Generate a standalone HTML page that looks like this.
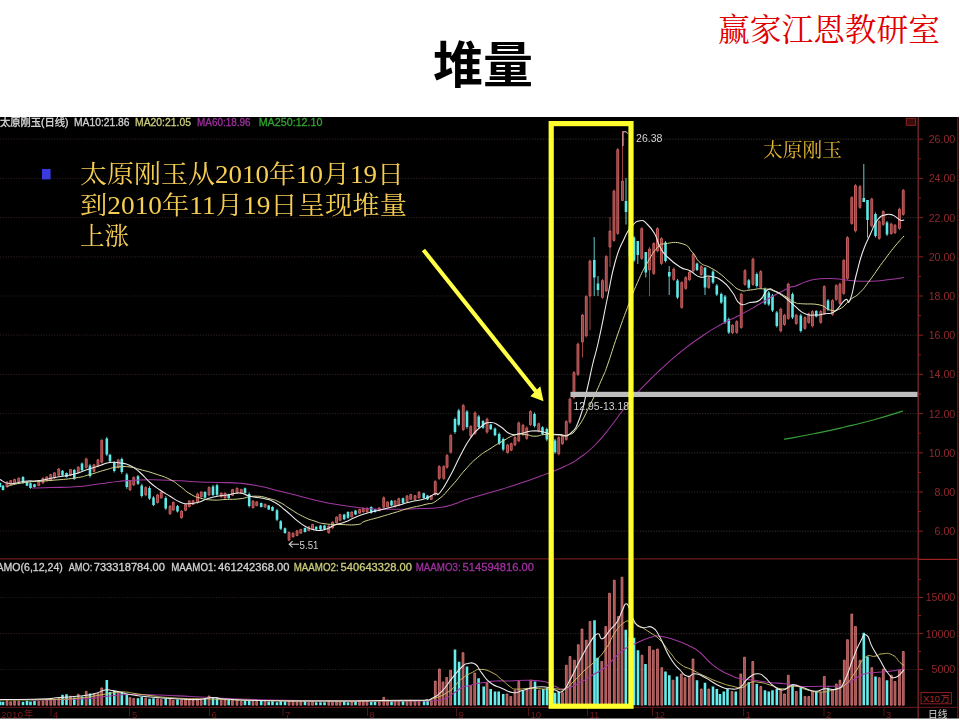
<!DOCTYPE html>
<html lang="zh-CN">
<head>
<meta charset="utf-8">
<title>堆量</title>
<style>
html,body{margin:0;padding:0;background:#fff;}
body{width:960px;height:720px;overflow:hidden;position:relative;font-family:"Liberation Sans",sans-serif;}
#slide{position:absolute;left:0;top:0;display:block;}
.t{position:absolute;margin:0;color:transparent;font-family:"Liberation Sans",sans-serif;font-weight:normal;white-space:nowrap;overflow:hidden;pointer-events:none;}
h1.t{left:432px;top:40px;width:102px;height:50px;font-size:48px;line-height:50px;}
p.brand{left:718px;top:12px;width:222px;height:32px;font-size:28px;line-height:32px;}
ul.t{left:42px;top:156px;width:366px;height:94px;font-size:24px;line-height:31px;list-style:none;padding:0 0 0 38px;box-sizing:border-box;}
p.lbl{left:764px;top:141px;width:80px;height:20px;font-size:18px;line-height:20px;}
</style>
</head>
<body>
<svg id="slide" width="960" height="720" viewBox="0 0 960 720" role="img" aria-label="堆量 — 太原刚玉日线图">
<defs>
<filter id="soft" filterUnits="userSpaceOnUse" x="0" y="0" width="960" height="720"><feGaussianBlur stdDeviation="0.55"/></filter>
<filter id="soft2" filterUnits="userSpaceOnUse" x="0" y="0" width="960" height="720"><feGaussianBlur stdDeviation="0.35"/></filter>
<linearGradient id="gridg" gradientUnits="userSpaceOnUse" x1="0" y1="0" x2="917" y2="0"><stop offset="0" stop-color="#221717"/><stop offset="0.5" stop-color="#281d1d"/><stop offset="1" stop-color="#2f2525"/></linearGradient>
</defs>
<rect x="0" y="0" width="960" height="720" fill="#fff"/>
<text id="title-glyphs" x="483" y="83" text-anchor="middle" font-family="'Liberation Sans', 'Noto Sans CJK SC', sans-serif" font-size="50" font-weight="bold" fill="#000">堆量</text>
<text id="brand-glyphs" x="718" y="40.5" font-family="'Liberation Serif', 'Noto Serif CJK SC', serif" font-size="31.7" fill="#e00000" textLength="222" lengthAdjust="spacingAndGlyphs">赢家江恩教研室</text>
<g id="chart">
<rect x="0" y="117" width="959" height="601.5" fill="#000"/>
<g stroke="url(#gridg)" stroke-width="1.2" stroke-dasharray="1.3 1.4" fill="none" filter="url(#soft2)">
<path d="M0 139.2 H917"/>
<path d="M0 178.4 H917"/>
<path d="M0 217.6 H917"/>
<path d="M0 256.8 H917"/>
<path d="M0 296 H917"/>
<path d="M0 335.2 H917"/>
<path d="M0 374.4 H917"/>
<path d="M0 413.6 H917"/>
<path d="M0 452.8 H917"/>
<path d="M0 492 H917"/>
<path d="M0 531.2 H917"/>
<path d="M0 597.5 H917"/>
<path d="M0 633.6 H917"/>
<path d="M0 669.5 H917"/>
</g>
<g stroke="#6c1d1d" stroke-width="1.3" fill="none" filter="url(#soft2)">
<path d="M0 558.9 H918"/><path d="M0 707.3 H958" stroke="#581616"/><path d="M918.2 117 V718" stroke="#7d2a2a"/>
</g>
<g stroke="#621818" stroke-width="1.4" fill="none" filter="url(#soft2)"><path d="M957.8 117 V718"/><path d="M918 559.4 H958" stroke="#9a2020"/></g>
<g stroke="#8e1f1f" stroke-width="1" fill="none">
<path d="M918 139.2 h5"/>
<path d="M918 158.8 h3"/>
<path d="M918 178.4 h5"/>
<path d="M918 198 h3"/>
<path d="M918 217.6 h5"/>
<path d="M918 237.2 h3"/>
<path d="M918 256.8 h5"/>
<path d="M918 276.4 h3"/>
<path d="M918 296 h5"/>
<path d="M918 315.6 h3"/>
<path d="M918 335.2 h5"/>
<path d="M918 354.8 h3"/>
<path d="M918 374.4 h5"/>
<path d="M918 394 h3"/>
<path d="M918 413.6 h5"/>
<path d="M918 433.2 h3"/>
<path d="M918 452.8 h5"/>
<path d="M918 472.4 h3"/>
<path d="M918 492 h5"/>
<path d="M918 511.6 h3"/>
<path d="M918 531.2 h5"/>
<path d="M918 597.5 h5"/>
<path d="M918 579.5 h3"/>
<path d="M918 633.6 h5"/>
<path d="M918 615.6 h3"/>
<path d="M918 669.5 h5"/>
<path d="M918 651.5 h3"/>
</g>
<g id="candles" filter="url(#soft)">
<path d="M7 481.2V487.5M10.8 480V485M14.5 478.8V483.8M18.8 477.5V482.5M38.8 480V486.2M43 477.5V483.8M46.8 476.2V481.2M50.8 473.8V481.2M54.5 472V478.8M58.8 468V476.2M70.5 468.8V476.2M78.2 466.2V473.8M86.2 457.5V468.8M94 463.8V472.5M98 458.8V467.5M101.8 438.8V463.8M118.2 458.8V468.8M130 480V491.2M133.8 476.2V486.2M145.8 486.2V496.2M157.5 493.8V503.8M161.2 491.2V498.8M170 505V515M173.2 501.2V511.2M181.5 510V518.8M185.5 503.8V511.2M189.2 500V507.5M193 500V505M197.5 492.5V503.8M201.2 491.2V497.5M209 486.2V496.2M221.2 492.5V497.5M225 492.5V498.8M232.5 488.8V496.2M237 487.5V493.8M241.2 488.8V493.8M253 500V508.8M256.8 501.2V506.2M265 503.8V507.5M289 531.2V541.2M293 532.5V537.5M297 530V536.2M300.8 528.8V533.8M308.8 526.2V531.2M312.5 523.8V530M328.8 525V533.8M332.5 521.2V528.8M336.5 516.2V523.8M340 513.8V521.2M351.8 511.2V517.5M359.5 508.8V513.8M363.2 507.5V512.5M367 507.5V512.5M379.2 507.5V511.2M383.8 496.2V508.8M387.5 501.2V507.5M395 500V507.5M398.8 497.5V506.2M407 495V502.5M410.8 493.8V500M415 495V500M419 491.2V498.8M431.2 495V500M435.2 480V496.2M439.2 465V480M443.8 465V480M447 453.8V468.8M450.8 433.8V453.8M463.2 403.8V431.2M470.8 425V437.5M475 411.2V435M487 417.5V433.8M507.5 443.8V453.8M511.2 442.5V451.2M515 436.2V446.2M518.8 421.2V442.5M523 423.8V436.2M526.8 426.2V440M530.5 410V426.2M538.8 422.5V432.5M558.8 436V455.5M562.5 435V445M566.2 420V441M570 397.5V423.8M574 371V399M578 342.5V376M582.5 314V357.5M586.2 295V337.5M590 259.5V330M602.5 279V299M606.2 255V292.5M610 217V267M614 189.5V242M617.7 148V235M622.5 131V200.5M641.8 227V260M649.5 247V296M653.8 242V275M657.5 227V252.5M661.5 237V265M673.8 267.5V281M681.8 281V309M685.8 276V290M689.5 271V281M693.2 252.5V272.5M701.2 265V276M708.8 276V289M732.5 324V334M736.8 320V334M741.2 292.5V329M745 269V286M753 257.5V286M760.8 270V289M780.8 307.5V332.5M784.5 313.8V326M788.2 282.5V320M796.2 313.8V325M805 316V330M808.8 312.5V324M812.5 310V327.5M820.8 310V324M824.2 285V315M832.5 299V316M836.2 284V301M840 282.5V305M843.8 258.8V295M847.5 236V280M851.8 196V225M855.5 184V232.5M860 185V209M871.8 197.5V227.5M879.2 220V240M883.2 210V226M891.2 222.5V235M895 224V234M899.5 207.5V230M903.2 188.8V216" stroke="#b04a4a" stroke-width="0.9" fill="none"/>
<path d="M0 482.5V487.5M3 485V490.5M23 476.2V483.8M27 481.2V486.2M30.5 482.5V488.8M34.5 483.8V487.5M62.5 470V476.2M66.5 472.5V477.5M74.2 468.8V480M82 462.5V471.2M90 463.8V477.5M106.8 437V456.2M110 453.8V462.5M114.2 461.2V472.5M121.8 457.5V473.8M126.8 473V488.8M138 475V485M141.8 483.8V497.5M149.5 486.2V500M153.5 496.2V506.2M165.8 496.2V510M177.5 505V512.5M205 491.2V498.8M213 485V496.2M217 483.8V496.2M228.8 493.8V498.8M245 487.5V493.8M249.2 492.5V507.5M261.2 502.5V507.5M268.8 505V510M272.5 506.2V511.2M277 508.8V521.2M280.8 520V530M285 527.5V533.8M305 527.5V532.5M316.2 526.2V530M320.5 525V530M324.5 525V530M344.2 513.8V520M348 511.2V518.8M355.5 510V515M371.2 506.2V513.8M375 508.8V512.5M391.5 500V506.2M403 497.5V503.8M423.8 492.5V498.8M427.5 495V500M455 417.5V433.8M458.8 408.8V426.2M467 410V428.8M478.8 415V428.8M483 420V428.8M490.8 423.8V430M495 427.5V436.2M499.2 432.5V445M503.2 437.5V451.2M534.5 412.5V427.5M542.5 426.2V435M546.8 427.5V441.2M551 433V446M555 438.8V453.8M594.2 237V296M598 276V296M626 178V224.5M630 224.5V257M634 236V262M637.8 241V264M645.8 252V277.5M665.5 241V262.5M669.2 266V295M677.5 279V299M697 262.5V271M705 267.5V295M713 270V284M716.8 284V296M721.2 292.5V304M725 295V324M728.8 317.5V334M748.8 279V289M756.8 272.5V287.5M765 287.5V305M768.8 291V306M772.5 294V312M776.8 311V327.5M792.5 292.5V319M800.8 313.8V332.5M816.2 310V317.5M828 299V311M863.8 164V202M867.5 200V237.5M875.5 212.5V237.5M887 221V236" stroke="#6fe0e0" stroke-width="0.9" fill="none"/>
<path d="M6 482h1.9v4.8h-1.9zM9.8 480.6h1.9v3.8h-1.9zM13.6 479.4h1.9v3.8h-1.9zM17.8 478.1h1.9v3.8h-1.9zM37.8 480.8h1.9v4.8h-1.9zM42 478.2h1.9v4.8h-1.9zM45.8 476.9h1.9v3.8h-1.9zM49.8 474.6h1.9v5.7h-1.9zM53.5 472.8h1.9v5.1h-1.9zM57.8 469h1.9v6.3h-1.9zM69.5 469.6h1.9v5.7h-1.9zM77.3 467.1h1.9v5.7h-1.9zM85.3 458.9h1.9v8.5h-1.9zM93 464.8h1.9v6.6h-1.9zM97 459.8h1.9v6.6h-1.9zM100.8 440.4h1.9v21.8h-1.9zM117.3 459.9h1.9v7.6h-1.9zM129.1 481.4h1.9v8.5h-1.9zM132.8 477.4h1.9v7.6h-1.9zM144.8 487.4h1.9v7.6h-1.9zM156.6 494.9h1.9v7.6h-1.9zM160.3 492.1h1.9v5.7h-1.9zM169.1 506.2h1.9v7.6h-1.9zM172.3 502.4h1.9v7.6h-1.9zM180.6 511.1h1.9v6.7h-1.9zM184.6 504.6h1.9v5.7h-1.9zM188.3 500.9h1.9v5.7h-1.9zM192.1 500.6h1.9v3.8h-1.9zM196.6 493.9h1.9v8.5h-1.9zM200.3 492h1.9v4.8h-1.9zM208.1 487.4h1.9v7.6h-1.9zM220.3 493.1h1.9v3.8h-1.9zM224.1 493.2h1.9v4.8h-1.9zM231.6 489.6h1.9v5.7h-1.9zM236.1 488.2h1.9v4.8h-1.9zM240.3 489.4h1.9v3.8h-1.9zM252.1 501.1h1.9v6.6h-1.9zM255.8 501.9h1.9v3.8h-1.9zM264.1 504.2h1.9v2.9h-1.9zM288.1 532.5h1.9v7.6h-1.9zM292.1 533.1h1.9v3.8h-1.9zM296.1 530.8h1.9v4.8h-1.9zM299.8 529.4h1.9v3.8h-1.9zM307.8 526.9h1.9v3.8h-1.9zM311.6 524.5h1.9v4.8h-1.9zM327.8 526h1.9v6.7h-1.9zM331.6 522.1h1.9v5.7h-1.9zM335.6 517.1h1.9v5.7h-1.9zM339.1 514.6h1.9v5.7h-1.9zM350.8 512h1.9v4.8h-1.9zM358.6 509.4h1.9v3.8h-1.9zM362.3 508.1h1.9v3.8h-1.9zM366.1 508.1h1.9v3.8h-1.9zM378.3 507.9h1.9v2.9h-1.9zM382.8 497.8h1.9v9.5h-1.9zM386.6 502h1.9v4.8h-1.9zM394.1 500.9h1.9v5.7h-1.9zM397.8 498.6h1.9v6.6h-1.9zM406.1 495.9h1.9v5.7h-1.9zM409.8 494.5h1.9v4.8h-1.9zM414.1 495.6h1.9v3.8h-1.9zM418.1 492.1h1.9v5.7h-1.9zM430.3 495.6h1.9v3.8h-1.9zM434.3 481.6h1.9v13h-1.9zM438.3 466.6h1.9v11.8h-1.9zM442.8 466.6h1.9v11.8h-1.9zM446.1 455.4h1.9v11.8h-1.9zM449.8 435.4h1.9v16.8h-1.9zM462.3 405.4h1.9v24.3h-1.9zM469.8 426.5h1.9v9.5h-1.9zM474.1 412.9h1.9v20.5h-1.9zM486.1 419.1h1.9v13h-1.9zM506.6 444.9h1.9v7.6h-1.9zM510.3 443.6h1.9v6.6h-1.9zM514 437.4h1.9v7.6h-1.9zM517.8 422.9h1.9v18h-1.9zM522 425.2h1.9v9.5h-1.9zM525.8 427.9h1.9v10.5h-1.9zM529.5 411.6h1.9v13h-1.9zM537.8 423.7h1.9v7.6h-1.9zM557.8 437.6h1.9v16.3h-1.9zM561.5 436.2h1.9v7.6h-1.9zM565.3 421.6h1.9v17.8h-1.9zM569 399.1h1.9v23h-1.9zM573 372.6h1.9v24.8h-1.9zM577 344.1h1.9v30.3h-1.9zM581.5 315h1.9v27h-1.9zM585.3 296.6h1.9v39.3h-1.9zM589 261h1.9v35h-1.9zM601.5 280.6h1.9v16.8h-1.9zM605.3 256.6h1.9v34.3h-1.9zM609 231h1.9v16h-1.9zM613 191.1h1.9v49.3h-1.9zM616.8 149.6h1.9v83.8h-1.9zM621.5 181h1.9v19.5h-1.9zM640.8 228.6h1.9v29.8h-1.9zM648.5 249h1.9v21h-1.9zM652.8 243.6h1.9v29.8h-1.9zM656.5 228.6h1.9v22.3h-1.9zM660.5 238.6h1.9v24.8h-1.9zM672.8 269.1h1.9v10.3h-1.9zM680.8 282.6h1.9v24.8h-1.9zM684.8 277.6h1.9v10.8h-1.9zM688.5 272.2h1.9v7.6h-1.9zM692.3 254.1h1.9v16.8h-1.9zM700.3 266.3h1.9v8.4h-1.9zM707.8 277.6h1.9v9.9h-1.9zM731.5 325.2h1.9v7.6h-1.9zM735.8 321.6h1.9v10.8h-1.9zM740.3 294.1h1.9v33.3h-1.9zM744 270.6h1.9v13.8h-1.9zM752 259.1h1.9v25.3h-1.9zM759.8 271.6h1.9v15.8h-1.9zM779.8 309.1h1.9v21.8h-1.9zM783.5 315.2h1.9v9.3h-1.9zM787.3 284.1h1.9v34.3h-1.9zM795.3 315.1h1.9v8.5h-1.9zM804 317.6h1.9v10.8h-1.9zM807.8 313.9h1.9v8.7h-1.9zM811.5 311.6h1.9v14.3h-1.9zM819.8 311.6h1.9v10.8h-1.9zM823.3 286.6h1.9v26.8h-1.9zM831.5 300.6h1.9v13.8h-1.9zM835.3 285.6h1.9v13.8h-1.9zM839 284.1h1.9v19.3h-1.9zM842.8 260.4h1.9v33h-1.9zM846.5 237.6h1.9v40.8h-1.9zM850.8 197.6h1.9v25.8h-1.9zM854.5 185.6h1.9v45.3h-1.9zM859 186.6h1.9v20.8h-1.9zM870.8 199.1h1.9v26.8h-1.9zM878.3 221.6h1.9v16.8h-1.9zM882.3 211.6h1.9v12.8h-1.9zM890.3 224h1.9v9.5h-1.9zM894 225.2h1.9v7.6h-1.9zM898.5 209.1h1.9v19.3h-1.9zM902.3 190.3h1.9v24.1h-1.9z" fill="#8e3c3c" stroke="#d06464" stroke-width="0.9"/>
<path d="M-1.3 483.1h2.6v3.8h-2.6zM1.7 485.7h2.6v4.2h-2.6zM21.7 477.1h2.6v5.7h-2.6zM25.7 481.9h2.6v3.8h-2.6zM29.2 483.2h2.6v4.8h-2.6zM33.2 484.2h2.6v2.9h-2.6zM61.2 470.8h2.6v4.8h-2.6zM65.2 473.1h2.6v3.8h-2.6zM73 470.1h2.6v8.5h-2.6zM80.7 463.6h2.6v6.6h-2.6zM88.7 465.4h2.6v10.5h-2.6zM105.5 438.6h2.6v16h-2.6zM108.7 454.8h2.6v6.6h-2.6zM113 462.6h2.6v8.5h-2.6zM120.5 459.1h2.6v13h-2.6zM125.5 474.6h2.6v12.5h-2.6zM136.7 476.2h2.6v7.6h-2.6zM140.4 485.4h2.6v10.5h-2.6zM148.2 487.9h2.6v10.5h-2.6zM152.2 497.4h2.6v7.6h-2.6zM164.4 497.9h2.6v10.5h-2.6zM176.2 505.9h2.6v5.7h-2.6zM203.7 492.1h2.6v5.7h-2.6zM211.7 486.4h2.6v8.5h-2.6zM215.7 485.2h2.6v9.5h-2.6zM227.4 494.4h2.6v3.8h-2.6zM243.7 488.2h2.6v4.8h-2.6zM247.9 494.1h2.6v11.8h-2.6zM259.9 503.1h2.6v3.8h-2.6zM267.4 505.6h2.6v3.8h-2.6zM271.2 506.9h2.6v3.8h-2.6zM275.7 510.2h2.6v9.5h-2.6zM279.4 521.2h2.6v7.6h-2.6zM283.7 528.2h2.6v4.8h-2.6zM303.7 528.1h2.6v3.8h-2.6zM314.9 526.7h2.6v2.8h-2.6zM319.2 525.6h2.6v3.8h-2.6zM323.2 525.6h2.6v3.8h-2.6zM342.9 514.5h2.6v4.8h-2.6zM346.7 512.1h2.6v5.7h-2.6zM354.2 510.6h2.6v3.8h-2.6zM369.9 507.1h2.6v5.7h-2.6zM373.7 509.2h2.6v2.8h-2.6zM390.2 500.8h2.6v4.8h-2.6zM401.7 498.2h2.6v4.8h-2.6zM422.4 493.2h2.6v4.8h-2.6zM426.2 495.6h2.6v3.8h-2.6zM453.7 419.1h2.6v13h-2.6zM457.4 410.4h2.6v14.3h-2.6zM465.7 411.6h2.6v15.5h-2.6zM477.4 416.6h2.6v10.5h-2.6zM481.7 421.1h2.6v6.6h-2.6zM489.4 424.5h2.6v4.8h-2.6zM493.7 428.6h2.6v6.6h-2.6zM497.9 434h2.6v9.5h-2.6zM501.9 439.1h2.6v10.5h-2.6zM533.2 414.1h2.6v11.8h-2.6zM541.2 427.3h2.6v6.6h-2.6zM545.5 429.1h2.6v10.5h-2.6zM549.7 434.6h2.6v9.9h-2.6zM553.7 440.4h2.6v11.8h-2.6zM593 260h2.6v17.5h-2.6zM596.7 283.5h2.6v6.5h-2.6zM624.7 201h2.6v11h-2.6zM628.7 226.1h2.6v29.3h-2.6zM632.7 237.6h2.6v22.8h-2.6zM636.5 241h2.6v14h-2.6zM644.5 252h2.6v20.5h-2.6zM664.2 242.6h2.6v18.3h-2.6zM668 272h2.6v4.5h-2.6zM676.2 280.6h2.6v16.8h-2.6zM695.7 263.5h2.6v6.5h-2.6zM703.7 267.5h2.6v20h-2.6zM711.7 271.6h2.6v10.8h-2.6zM715.5 285.4h2.6v9.1h-2.6zM720 293.9h2.6v8.7h-2.6zM723.7 296.6h2.6v25.8h-2.6zM727.5 319.1h2.6v13.3h-2.6zM747.5 280.2h2.6v7.6h-2.6zM755.5 274.1h2.6v11.8h-2.6zM763.7 289.1h2.6v14.3h-2.6zM767.5 292.6h2.6v11.8h-2.6zM771.2 295.6h2.6v14.8h-2.6zM775.5 312.6h2.6v13.3h-2.6zM791.2 294.1h2.6v23.3h-2.6zM799.5 315.4h2.6v15.5h-2.6zM815 310.9h2.6v5.7h-2.6zM826.7 300.4h2.6v9.1h-2.6zM862.5 198h2.6v4h-2.6zM866.2 200h2.6v20h-2.6zM874.2 214.1h2.6v21.8h-2.6zM885.7 222.6h2.6v11.8h-2.6z" fill="#5ee6e6"/>
</g>
<g id="volume" filter="url(#soft)">
<path d="M6.1 700.9h1.8V705.2h-1.8zM9.8 701.8h1.8V705.2h-1.8zM13.6 701h1.8V705.2h-1.8zM17.9 701.2h1.8V705.2h-1.8zM37.9 701.5h1.8V705.2h-1.8zM42.1 701.1h1.8V705.2h-1.8zM45.9 699.9h1.8V705.2h-1.8zM49.9 698.4h1.8V705.2h-1.8zM53.6 699.7h1.8V705.2h-1.8zM57.9 698.5h1.8V705.2h-1.8zM69.6 696.2h1.8V705.2h-1.8zM77.3 694.3h1.8V705.2h-1.8zM85.3 691.4h1.8V705.2h-1.8zM93.1 693.8h1.8V705.2h-1.8zM97.1 693.3h1.8V705.2h-1.8zM100.8 687.9h1.8V705.2h-1.8zM117.3 691.9h1.8V705.2h-1.8zM129.1 697.6h1.8V705.2h-1.8zM132.8 698.4h1.8V705.2h-1.8zM144.8 698.1h1.8V705.2h-1.8zM156.6 698.8h1.8V705.2h-1.8zM160.3 699.4h1.8V705.2h-1.8zM169.1 698.9h1.8V705.2h-1.8zM172.3 700.2h1.8V705.2h-1.8zM180.6 699.8h1.8V705.2h-1.8zM184.6 699.1h1.8V705.2h-1.8zM188.3 699.5h1.8V705.2h-1.8zM192.1 700.5h1.8V705.2h-1.8zM196.6 699.2h1.8V705.2h-1.8zM200.3 700.5h1.8V705.2h-1.8zM208.1 696h1.8V705.2h-1.8zM220.3 699.8h1.8V705.2h-1.8zM224.1 699.9h1.8V705.2h-1.8zM231.6 700.6h1.8V705.2h-1.8zM236.1 700.4h1.8V705.2h-1.8zM240.3 701.5h1.8V705.2h-1.8zM252.1 701.2h1.8V705.2h-1.8zM255.8 701.4h1.8V705.2h-1.8zM264.1 700.7h1.8V705.2h-1.8zM288.1 700.9h1.8V705.2h-1.8zM292.1 701.2h1.8V705.2h-1.8zM296.1 702h1.8V705.2h-1.8zM299.9 701.9h1.8V705.2h-1.8zM307.9 702.4h1.8V705.2h-1.8zM311.6 701.8h1.8V705.2h-1.8zM327.9 701.3h1.8V705.2h-1.8zM331.6 702.2h1.8V705.2h-1.8zM335.6 702.1h1.8V705.2h-1.8zM339.1 701.9h1.8V705.2h-1.8zM350.9 701.8h1.8V705.2h-1.8zM358.6 701.2h1.8V705.2h-1.8zM362.4 701.3h1.8V705.2h-1.8zM366.1 701.2h1.8V705.2h-1.8zM378.4 701.9h1.8V705.2h-1.8zM382.9 697.4h1.8V705.2h-1.8zM386.6 700h1.8V705.2h-1.8zM394.1 700.8h1.8V705.2h-1.8zM397.9 700.8h1.8V705.2h-1.8zM406.1 700.5h1.8V705.2h-1.8zM409.9 700.3h1.8V705.2h-1.8zM414.1 701h1.8V705.2h-1.8zM418.1 701.6h1.8V705.2h-1.8zM430.5 700.8h1.8V705.2h-1.8zM434.4 681.1h1.8V705.2h-1.8zM438.5 669h1.8V705.2h-1.8zM442.1 681.9h1.8V705.2h-1.8zM445.8 677.5h1.8V705.2h-1.8zM449.7 670.2h1.8V705.2h-1.8zM462.1 652.7h1.8V705.2h-1.8zM469.9 685.5h1.8V705.2h-1.8zM473.8 673.1h1.8V705.2h-1.8zM486.1 682.7h1.8V705.2h-1.8zM506.1 694h1.8V705.2h-1.8zM509.9 696.5h1.8V705.2h-1.8zM514.1 690.2h1.8V705.2h-1.8zM517.9 681.5h1.8V705.2h-1.8zM526.1 689h1.8V705.2h-1.8zM529.9 680.2h1.8V705.2h-1.8zM538.4 690.2h1.8V705.2h-1.8zM561.6 692.7h1.8V705.2h-1.8zM565.4 665.2h1.8V705.2h-1.8zM569.1 656.5h1.8V705.2h-1.8zM573.6 660.2h1.8V705.2h-1.8zM577.4 644.7h1.8V705.2h-1.8zM581.1 629h1.8V705.2h-1.8zM585.4 640.2h1.8V705.2h-1.8zM589.1 621.5h1.8V705.2h-1.8zM600.9 661.5h1.8V705.2h-1.8zM604.9 626.5h1.8V705.2h-1.8zM608.6 593.2h1.8V705.2h-1.8zM613.4 580.2h1.8V705.2h-1.8zM617.4 616.5h1.8V705.2h-1.8zM621.1 577.2h1.8V705.2h-1.8zM641.1 655.2h1.8V705.2h-1.8zM648.6 646.5h1.8V705.2h-1.8zM652.4 650.2h1.8V705.2h-1.8zM656.6 649h1.8V705.2h-1.8zM660.9 667.7h1.8V705.2h-1.8zM672.1 680.2h1.8V705.2h-1.8zM680.4 674h1.8V705.2h-1.8zM684.1 677.7h1.8V705.2h-1.8zM688.4 676.5h1.8V705.2h-1.8zM692.1 659h1.8V705.2h-1.8zM700.4 689h1.8V705.2h-1.8zM707.9 689h1.8V705.2h-1.8zM731.1 691.5h1.8V705.2h-1.8zM739.9 674h1.8V705.2h-1.8zM743.6 657.2h1.8V705.2h-1.8zM751.9 661.5h1.8V705.2h-1.8zM759.9 686.5h1.8V705.2h-1.8zM779.9 690.2h1.8V705.2h-1.8zM783.6 694h1.8V705.2h-1.8zM787.4 675.2h1.8V705.2h-1.8zM795.4 691.5h1.8V705.2h-1.8zM804.1 696.5h1.8V705.2h-1.8zM807.9 696.5h1.8V705.2h-1.8zM811.6 691.5h1.8V705.2h-1.8zM819.9 692.7h1.8V705.2h-1.8zM823.4 676.5h1.8V705.2h-1.8zM831.6 690.2h1.8V705.2h-1.8zM835.4 684h1.8V705.2h-1.8zM839.1 680.2h1.8V705.2h-1.8zM843.4 660.2h1.8V705.2h-1.8zM846.6 639.7h1.8V705.2h-1.8zM850.9 614h1.8V705.2h-1.8zM854.6 626.5h1.8V705.2h-1.8zM859.1 660.2h1.8V705.2h-1.8zM870.9 667.7h1.8V705.2h-1.8zM878.4 677.7h1.8V705.2h-1.8zM882.4 669h1.8V705.2h-1.8zM890.4 675.2h1.8V705.2h-1.8zM894.1 681.5h1.8V705.2h-1.8zM898.6 670.2h1.8V705.2h-1.8zM902.4 651.5h1.8V705.2h-1.8z" fill="#a04c4c" stroke="#dc7c7c" stroke-width="0.8"/>
<path d="M-1.3 701.5h2.6V705.2h-2.6zM1.7 701.7h2.6V705.2h-2.6zM21.7 701.7h2.6V705.2h-2.6zM25.7 700.8h2.6V705.2h-2.6zM29.2 701.6h2.6V705.2h-2.6zM33.2 700.9h2.6V705.2h-2.6zM61.2 694.8h2.6V705.2h-2.6zM65.2 694.2h2.6V705.2h-2.6zM73 697.4h2.6V705.2h-2.6zM80.7 696.6h2.6V705.2h-2.6zM88.7 693.6h2.6V705.2h-2.6zM105.5 679.9h2.6V705.2h-2.6zM108.7 692.1h2.6V705.2h-2.6zM113 690.8h2.6V705.2h-2.6zM120.5 692h2.6V705.2h-2.6zM125.5 694.8h2.6V705.2h-2.6zM136.7 698.3h2.6V705.2h-2.6zM140.4 697.1h2.6V705.2h-2.6zM148.2 698.7h2.6V705.2h-2.6zM152.2 698.2h2.6V705.2h-2.6zM164.4 698.4h2.6V705.2h-2.6zM176.2 699.6h2.6V705.2h-2.6zM203.7 698.3h2.6V705.2h-2.6zM211.7 697.5h2.6V705.2h-2.6zM215.7 697h2.6V705.2h-2.6zM227.4 699.9h2.6V705.2h-2.6zM243.7 700.9h2.6V705.2h-2.6zM247.9 701.1h2.6V705.2h-2.6zM259.9 700.9h2.6V705.2h-2.6zM267.4 701.5h2.6V705.2h-2.6zM271.2 701.2h2.6V705.2h-2.6zM275.7 702.2h2.6V705.2h-2.6zM279.4 701.2h2.6V705.2h-2.6zM283.7 701.4h2.6V705.2h-2.6zM303.7 701.5h2.6V705.2h-2.6zM314.9 702.2h2.6V705.2h-2.6zM319.2 702.2h2.6V705.2h-2.6zM323.2 702.3h2.6V705.2h-2.6zM342.9 701.2h2.6V705.2h-2.6zM346.7 702.3h2.6V705.2h-2.6zM354.2 701.6h2.6V705.2h-2.6zM369.9 702h2.6V705.2h-2.6zM373.7 701.8h2.6V705.2h-2.6zM390.2 701.3h2.6V705.2h-2.6zM401.7 700.9h2.6V705.2h-2.6zM422.8 700.5h2.6V705.2h-2.6zM426.3 700.5h2.6V705.2h-2.6zM453.7 649.5h2.6V705.2h-2.6zM457.8 661.7h2.6V705.2h-2.6zM465.7 666.6h2.6V705.2h-2.6zM477.3 678.2h2.6V705.2h-2.6zM482.4 686.5h2.6V705.2h-2.6zM489.4 689h2.6V705.2h-2.6zM493.7 691.5h2.6V705.2h-2.6zM497.4 691.5h2.6V705.2h-2.6zM501.9 694h2.6V705.2h-2.6zM521.7 690.2h2.6V705.2h-2.6zM533.7 681.5h2.6V705.2h-2.6zM542 689h2.6V705.2h-2.6zM545.7 687.7h2.6V705.2h-2.6zM549.7 690.2h2.6V705.2h-2.6zM553.7 692.7h2.6V705.2h-2.6zM557.5 691.5h2.6V705.2h-2.6zM593.2 620.2h2.6V705.2h-2.6zM596.2 657.7h2.6V705.2h-2.6zM624.5 629.7h2.6V705.2h-2.6zM628.7 637.7h2.6V705.2h-2.6zM632.7 637.7h2.6V705.2h-2.6zM636.7 650.2h2.6V705.2h-2.6zM644.2 664h2.6V705.2h-2.6zM664.2 671.5h2.6V705.2h-2.6zM668 675.2h2.6V705.2h-2.6zM675.7 676.5h2.6V705.2h-2.6zM695.7 680.2h2.6V705.2h-2.6zM703.7 682.7h2.6V705.2h-2.6zM711.7 686.5h2.6V705.2h-2.6zM715.5 689h2.6V705.2h-2.6zM718.7 694h2.6V705.2h-2.6zM722.5 691.5h2.6V705.2h-2.6zM726.2 689h2.6V705.2h-2.6zM734.5 691.5h2.6V705.2h-2.6zM747.5 682.2h2.6V705.2h-2.6zM755.5 684h2.6V705.2h-2.6zM763.7 690.2h2.6V705.2h-2.6zM767.5 691.5h2.6V705.2h-2.6zM771.2 690.2h2.6V705.2h-2.6zM775.5 689h2.6V705.2h-2.6zM791.2 684h2.6V705.2h-2.6zM799.5 687.7h2.6V705.2h-2.6zM815 691.5h2.6V705.2h-2.6zM826.7 687.7h2.6V705.2h-2.6zM862.5 632.7h2.6V705.2h-2.6zM866.2 656.5h2.6V705.2h-2.6zM874.2 676.5h2.6V705.2h-2.6zM885.7 680.2h2.6V705.2h-2.6z" fill="#66ecec"/>
</g>
<g id="ma" filter="url(#soft2)">
<path d="M32.5 488 C37.4 487.9 38.1 487.9 50 487.5 C61.9 487.1 61 487.8 75 486.8 C89 485.7 87.4 485.3 100 483.8 C112.6 482.2 108.8 482.3 120 481.2 C131.2 480.2 128.8 480.4 140 480 C151.2 479.6 148.8 479.8 160 480 C171.2 480.2 168.8 480.2 180 480.8 C191.2 481.3 188.8 481.5 200 482 C211.2 482.5 208.8 482.1 220 482.5 C231.2 482.9 228.8 482.2 240 483.2 C251.2 484.3 248.8 484 260 486.2 C271.2 488.5 268.8 488.4 280 491.2 C291.2 494.1 288.8 493.4 300 496.2 C311.2 499.1 308.8 498.8 320 501.2 C331.2 503.7 329.5 503.2 340 505 C350.5 506.8 349.1 506.4 357.5 507.5 C365.9 508.6 360.9 508.3 370 508.8 C379.1 509.2 377.4 509.2 390 509.2 C402.6 509.2 401 509.2 415 508.8 C429 508.3 428.8 508.9 440 507.5 C451.2 506.1 448 505.9 455 503.8 C462 501.6 455.2 503.1 465 500 C474.8 496.9 476 496.7 490 492.5 C504 488.3 501 489.6 515 485 C529 480.4 526 481.5 540 476.2 C554 471 553.8 471.5 565 466.2 C576.2 461 571.6 463.4 580 457.5 C588.4 451.6 586.6 453.4 595 445 C603.4 436.6 601.6 438 610 427.5 C618.4 417 616.6 418 625 407.5 C633.4 397 630.2 400.5 640 390 C649.8 379.5 648.8 380.5 660 370 C671.2 359.5 668.8 361.6 680 352.5 C691.2 343.4 688.8 345.2 700 337.5 C711.2 329.8 708.8 331.3 720 325 C731.2 318.7 728.8 320.9 740 315 C751.2 309.1 750.2 309.4 760 303.8 C769.8 298.1 766.6 299.6 775 295 C783.4 290.4 784.4 289.9 790 287.5 C795 285.1 790.1 288 795 286.2 C799.9 284.5 800.5 283.4 807.5 281.2 C814.5 279.1 812.3 279.4 820 278.8 C827.7 278.1 826.6 278.3 835 278.8 C843.4 279.2 840.2 279.8 850 280.5 C859.8 281.2 858.8 281.5 870 281.2 C881.2 281 880.5 280.6 890 279.5 C899.5 278.4 899.9 278.1 903.8 277.5" stroke="#a038a0" stroke-width="1.05" fill="none" stroke-linejoin="round" stroke-linecap="round" />
<path d="M7.5 486.2 C12.4 485.2 13.1 484.1 25 482.5 C36.9 480.9 36 481.8 50 480.5 C64 479.2 63.8 479.7 75 478 C86.2 476.3 81.6 476.7 90 474.5 C98.4 472.3 97.3 472.1 105 470 C112.7 467.9 110.5 467.8 117.5 467 C124.5 466.2 123.7 466.3 130 467 C136.3 467.7 133 467.6 140 469.5 C147 471.4 146.6 470.9 155 473.8 C163.4 476.6 163 476 170 479.5 C177 483 174.4 482.3 180 486.2 C185.6 490.2 184.4 490.5 190 493.8 C195.6 497 193.7 496.2 200 498 C206.3 499.8 205.5 499.6 212.5 500 C219.5 500.4 217.3 499.9 225 499.5 C232.7 499.1 231.6 499.7 240 498.8 C248.4 497.8 246.6 496.2 255 496.2 C263.4 496.2 263 497 270 498.8 C277 500.5 274.4 499.7 280 502.5 C285.6 505.3 283.7 504.9 290 508.8 C296.3 512.6 295.5 512.8 302.5 516.2 C309.5 519.8 308.7 519.1 315 521.2 C321.3 523.4 318 522.8 325 523.8 C332 524.7 330.9 524.3 340 524.5 C349.1 524.7 350.5 525.4 357.5 524.5 C364.5 523.6 358.7 523.4 365 521.2 C371.3 519.1 371.6 519.5 380 517 C388.4 514.5 386.6 515 395 512.5 C403.4 510 401.6 510.2 410 508 C418.4 505.8 417.3 506.7 425 504.5 C432.7 502.3 429.8 505.5 437.5 500 C445.2 494.5 444.8 493.4 452.5 485 C460.2 476.6 458 477.7 465 470 C472 462.3 470.5 463.4 477.5 457.5 C484.5 451.6 483 453.3 490 448.8 C497 444.2 495.5 445.1 502.5 441.2 C509.5 437.4 508.7 436.9 515 435 C521.3 433.1 519.4 434.1 525 434.5 C530.6 434.9 529.4 436.2 535 436.2 C540.6 436.2 538.7 434.9 545 434.5 C551.3 434.1 551.2 434.9 557.5 435 C563.8 435.1 561.9 437.1 567.5 435 C573.1 432.9 571.2 435.9 577.5 427.5 C583.8 419.1 583 419 590 405 C597 391 597.6 388.7 602.5 377.5 C607.4 366.3 603.3 376.9 607.5 365 C611.7 353.1 611.9 351.1 617.5 335 C623.1 318.9 621.9 322.2 627.5 307.5 C633.1 292.8 631.9 295.1 637.5 282.5 C643.1 269.9 641.9 272.3 647.5 262.5 C653.1 252.7 652.6 252.8 657.5 247.5 C662.4 242.2 658 244.8 665 243.8 C672 242.7 674.8 241.3 682.5 243.8 C690.2 246.2 687.6 247.2 692.5 252.5 C697.4 257.8 695.1 258.3 700 262.5 C704.9 266.7 704.4 264.4 710 267.5 C715.6 270.6 714.4 269.6 720 273.8 C725.6 277.9 724.4 277.9 730 282.5 C735.6 287.1 734.4 287.9 740 290 C745.6 292.1 743.7 290.4 750 290 C756.3 289.6 755.5 288.4 762.5 288.8 C769.5 289.1 768.7 289.1 775 291.2 C781.3 293.4 779.4 293.1 785 296.2 C790.6 299.4 790.1 300.4 795 302.5 C799.9 304.6 795.5 303.1 802.5 303.8 C809.5 304.4 812.3 303.2 820 305 C827.7 306.8 824.4 308.9 830 310 C835.6 311.1 834.4 311.6 840 308.8 C845.6 305.9 844.4 304.6 850 300 C855.6 295.4 854.4 298.1 860 292.5 C865.6 286.9 863.7 288.4 870 280 C876.3 271.6 875.5 271.9 882.5 262.5 C889.5 253.1 889 253.6 895 246.2 C901 238.9 901.3 239.1 903.8 236.2" stroke="#d6d690" stroke-width="1.0" fill="none" stroke-linejoin="round" stroke-linecap="round" />
<path d="M0 479.5 C2.8 480.7 3 483.3 10 483.8 C17 484.2 16.6 482.2 25 481.2 C33.4 480.3 31.6 481.6 40 480.5 C48.4 479.4 45.9 479.2 55 477.5 C64.1 475.8 63.4 476.7 72.5 474.5 C81.6 472.3 79.8 472 87.5 469.5 C95.2 467 93.7 467.5 100 465.5 C106.3 463.5 104.4 463.2 110 462.5 C115.6 461.8 114.4 462.2 120 463 C125.6 463.8 124.4 462.8 130 465.5 C135.6 468.2 134.4 467.7 140 472.5 C145.6 477.3 144.4 477.6 150 482.5 C155.6 487.4 154.4 486.1 160 490 C165.6 493.9 164.4 492.9 170 496.2 C175.6 499.6 175.1 499.9 180 502 C184.9 504.1 182.6 503.6 187.5 503.8 C192.4 503.9 191.9 503.9 197.5 502.5 C203.1 501.1 201.9 500.5 207.5 498.8 C213.1 497 211.9 497.3 217.5 496.2 C223.1 495.2 221.2 495.9 227.5 495 C233.8 494.1 233.7 492.6 240 493 C246.3 493.4 243 494.6 250 496.2 C257 497.9 258 497 265 498.8 C272 500.5 269.4 499.4 275 502.5 C280.6 505.6 279.4 505.4 285 510 C290.6 514.5 289.4 514.2 295 518.8 C300.6 523.3 299.4 523.1 305 526.2 C310.6 529.4 309.4 529.1 315 530 C320.6 530.9 319.4 530.9 325 529.5 C330.6 528.1 329.4 527.1 335 525 C340.6 522.9 339.4 524.1 345 522 C350.6 519.9 349.4 519.8 355 517.5 C360.6 515.2 358 515.9 365 513.8 C372 511.6 371.6 512.1 380 510 C388.4 507.9 386.6 508.5 395 506.2 C403.4 504 401.6 504.1 410 502 C418.4 499.9 418 501.1 425 498.8 C432 496.4 430.8 495.5 435 493.8 C439.2 492 435.8 497.4 440 492.5 C444.2 487.6 444.4 486.4 450 476.2 C455.6 466.1 454.4 466.8 460 456.2 C465.6 445.8 464.4 446.8 470 438.8 C475.6 430.7 474.4 432.1 480 427.5 C485.6 422.9 484.4 422.9 490 422.5 C495.6 422.1 494.4 423.1 500 426.2 C505.6 429.4 504.4 431.6 510 433.8 C515.6 435.9 514.4 434.4 520 433.8 C525.6 433.1 524.4 431.9 530 431.2 C535.6 430.6 534.4 430.6 540 431.2 C545.6 431.9 544.4 432.8 550 433.8 C555.6 434.7 554.4 434.5 560 434.5 C565.6 434.5 564.4 438.5 570 433.8 C575.6 429 575.1 430.4 580 417.5 C584.9 404.6 584 402.2 587.5 387.5 C591 372.8 589.4 378.3 592.5 365 C595.6 351.7 594.5 358.9 598.8 340 C603 321.1 603 319.2 607.5 297.5 C612 275.8 610.5 278.7 615 262.5 C619.5 246.3 619.2 249.4 623.8 239.5 C628.3 229.6 626.7 232.2 631.2 227 C635.8 221.8 635.5 221.4 640 220.8 C644.5 220.1 643.3 220.7 647.5 224.5 C651.7 228.3 651.5 228.2 655 234.5 C658.5 240.8 656.5 240.7 660 247 C663.5 253.3 661.9 251.4 667.5 257 C673.1 262.6 673.7 263.1 680 267 C686.3 270.9 684.4 267.9 690 270.8 C695.6 273.6 694.4 275.5 700 277 C705.6 278.5 703.7 275.1 710 276.2 C716.3 277.4 716.2 276.7 722.5 281.2 C728.8 285.8 727.6 286.2 732.5 292.5 C737.4 298.8 735.1 300.9 740 303.8 C744.9 306.6 744.4 303.6 750 302.5 C755.6 301.4 755.1 303.5 760 300 C764.9 296.5 763.3 292.4 767.5 290 C771.7 287.6 770.1 289.1 775 291.2 C779.9 293.4 779.4 293.3 785 297.5 C790.6 301.7 789.4 301.7 795 306.2 C800.6 310.8 799.4 311.3 805 313.8 C810.6 316.2 809.4 315 815 315 C820.6 315 819.4 314.8 825 313.8 C830.6 312.7 829.4 315.1 835 311.2 C840.6 307.4 840.8 303.1 845 300 C849.2 296.9 846.9 307 850 300 C853.1 293 852.8 288.3 856.2 275 C859.8 261.7 858.6 263.7 862.5 252.5 C866.4 241.3 865.8 244.1 870 235 C874.2 225.9 873.3 225.6 877.5 220 C881.7 214.4 880.8 216.4 885 215 C889.2 213.6 888.3 213.6 892.5 215 C896.7 216.4 896.9 218.6 900 220 C903.1 221.4 902.7 220 903.8 220" stroke="#ebebeb" stroke-width="1.08" fill="none" stroke-linejoin="round" stroke-linecap="round" />
<path d="M784.5 439.2 C793 437.6 798.1 436.9 815 433.5 C831.9 430.1 828.2 430.9 845 427 C861.8 423.1 858.9 423.9 875 419.5 C891.1 415.1 894.8 413.6 902.5 411.2" stroke="#36a036" stroke-width="1.25" fill="none" stroke-linejoin="round" stroke-linecap="round" />
<path d="M32 700 C45.4 699.7 58.2 700.1 80 699 C101.8 697.9 96 697.3 110 696 C124 694.7 116 694.8 130 694.5 C144 694.2 143.2 694.4 160 695 C176.8 695.6 176 695.8 190 696.5 C204 697.2 196 696.8 210 697.5 C224 698.2 214.8 698.2 240 699 C265.2 699.8 255.2 699.9 300 700.5 C344.8 701.1 361.9 701 400 701 C436 701 423.1 701.3 436 700.5 C446 699.7 441 700.1 446 698 C451 695.9 449.8 695.7 454 693 C458.2 690.3 456.5 690.5 460.8 688.3 C465.2 686.2 463.1 687.1 469.6 685.4 C476.1 683.8 476.8 683.7 484.2 682.5 C491.5 681.3 488.5 681.5 495.8 681 C503.2 680.6 501.4 681.2 510.4 681 C519.4 680.8 518.1 680.1 527.9 680.3 C537.7 680.5 538.9 680.3 545.4 681.8 C551.3 683.2 548.6 684.2 551.3 685.4 C553.9 686.7 551.3 685.3 555 686.2 C558.8 687.2 558 689.8 565 688.8 C572 687.7 572.3 686.4 580 682.5 C587.7 678.6 585.5 679.2 592.5 675 C599.5 670.8 598.7 672.4 605 667.5 C611.3 662.6 609.4 662.8 615 657.5 C620.6 652.2 619.4 652.6 625 648.8 C630.6 644.9 628 646.9 635 643.8 C642 640.6 643 639.6 650 637.5 C657 635.4 653 635.5 660 636.2 C667 637 666.6 637.2 675 640 C683.4 642.8 683 642.8 690 646.2 C697 649.8 694.4 648 700 652.5 C705.6 657 704.4 657.6 710 662.5 C715.6 667.4 714.4 666.5 720 670 C725.6 673.5 724.4 672.5 730 675 C735.6 677.5 733.7 677.4 740 678.8 C746.3 680.1 744.1 679 752.5 680 C760.9 681 760.9 681.5 770 682.5 C779.1 683.5 776.6 682.7 785 683.8 C793.4 684.8 790.2 685.5 800 686.2 C809.8 687 810.9 686.2 820 686.2 C829.1 686.2 825.5 686.6 832.5 686.2 C839.5 685.9 838.7 687.1 845 685 C851.3 682.9 849.4 681.9 855 678.8 C860.6 675.6 859.4 675.5 865 673.8 C870.6 672 868 673.2 875 672.5 C882 671.8 882 672.3 890 671.2 C898 670.2 899.9 669.5 903.8 668.8" stroke="#a038a0" stroke-width="1.05" fill="none" stroke-linejoin="round" stroke-linecap="round" />
<path d="M0 700 C14 699.9 27.6 700.1 50 699.5 C72.4 698.9 66 699.3 80 698 C94 696.7 90.2 696.5 100 695 C109.8 693.5 108 693.3 115 692.5 C122 691.7 119.4 691.7 125 692 C130.6 692.3 128 692.5 135 693.5 C142 694.5 138.8 694.2 150 695.5 C161.2 696.8 158.2 697 175 698 C191.8 699 186.2 698.3 210 699 C233.8 699.7 223.6 699.9 260 700.5 C296.4 701.1 293.8 701 340 701 C386.2 701 399.3 701 425 700.5 C431.7 700 425 701.9 431.7 699.3 C438.4 696.7 441 696.8 449.2 691.3 C457.3 685.7 454.3 684.9 460.8 679.6 C467.4 674.3 466.8 675.2 472.5 672.3 C478.2 669.4 475.5 669.2 481.3 669.4 C487 669.6 487.2 670.2 492.9 673 C498.6 675.9 496.8 675.7 501.7 679.6 C506.6 683.5 506.3 684.2 510.4 686.9 C514.5 689.5 510.5 688.7 516.3 689.1 C522 689.5 522.7 688.3 530.8 688.3 C539 688.3 538.7 688.9 545.4 689.1 C552.2 689.2 549.5 688.8 555 688.8 C560.5 688.7 559.4 691.2 565 688.8 C570.6 686.3 569.4 685.2 575 680 C580.6 674.8 579.4 675.2 585 670 C590.6 664.8 589.4 666.9 595 661.2 C600.6 655.6 599.4 658 605 650 C610.6 642 610.1 639.9 615 632.5 C619.9 625.1 618.3 626.9 622.5 623.8 C626.7 620.6 625.8 620.9 630 621.2 C634.2 621.6 631.9 621.9 637.5 625 C643.1 628.1 643.7 628.3 650 632.5 C656.3 636.7 654.4 634.4 660 640 C665.6 645.6 664.4 645.9 670 652.5 C675.6 659.1 673.7 658.9 680 663.8 C686.3 668.6 685.5 666.5 692.5 670 C699.5 673.5 697.3 672.8 705 676.2 C712.7 679.8 712.3 679.7 720 682.5 C727.7 685.3 726.2 684.9 732.5 686.2 C738.8 687.6 737.6 688.5 742.5 687.5 C747.4 686.5 745.1 683.9 750 682.5 C754.9 681.1 754.4 681.8 760 682.5 C765.6 683.2 763.7 683.2 770 685 C776.3 686.8 775.5 688.4 782.5 688.8 C789.5 689.1 788 685.9 795 686.2 C802 686.6 800.5 688.4 807.5 690 C814.5 691.6 813 692 820 692 C827 692 825.5 692 832.5 690 C839.5 688 838.7 689.9 845 685 C851.3 680.1 849.4 680.2 855 672.5 C860.6 664.8 859.4 662 865 657.5 C870.6 653 870.1 657.3 875 656.2 C879.9 655.2 877.6 654.1 882.5 653.8 C887.4 653.4 887.6 652.5 892.5 655 C897.4 657.5 896.9 659.7 900 662.5 C903.1 665.3 902.7 664.3 903.8 665" stroke="#cfc060" stroke-width="0.95" fill="none" stroke-linejoin="round" stroke-linecap="round" />
<path d="M0 699.5 C11.2 699.4 23.2 699.6 40 699 C56.8 698.4 48.8 698.3 60 697.5 C71.2 696.7 70.2 697.1 80 696 C89.8 694.9 88 695.2 95 693.5 C102 691.8 100.2 690.8 105 690 C109.8 689.2 107.8 689.9 112 690.5 C116.2 691.1 115 690.9 120 692 C125 693.1 121.6 693.1 130 694.5 C138.4 695.9 136 695.7 150 697 C164 698.3 166 698.3 180 699 C194 699.7 191 699.9 200 699.5 C209 699.1 205 697.6 212 697.5 C219 697.4 212 698.2 225 699 C238.4 699.8 227.8 699.9 260 700.5 C292.2 701.1 306.4 701 340 701 C373.6 701 356.2 700.8 380 700.5 C403.8 700.2 410.5 700.5 425 700 C431.7 699.5 426.9 701 431.7 698.5 C436.4 696.1 436.2 697 441.9 691.3 C447.6 685.5 446.4 685.1 452.1 678.1 C457.8 671.2 457.8 670.5 462.3 666.5 C466.8 662.4 464.5 664.2 468.1 663.5 C471.8 662.9 471.7 661.8 475.4 664.3 C479.1 666.7 477.2 667.2 481.3 672.3 C485.3 677.4 484.3 678 490 682.5 C495.7 687 495.1 685.5 501.7 688.3 C508.2 691.2 507.6 692.1 513.3 692.7 C519.1 693.3 516.4 692 522.1 690.5 C527.8 689.1 527.2 688.6 533.8 687.6 C540.3 686.6 539.5 686.2 545.4 686.9 C551.4 687.5 550.2 688.8 555 690 C559.8 691.2 558.3 694 562.5 691.2 C566.7 688.5 565.1 688.8 570 680 C574.9 671.2 574.4 670.5 580 660 C585.6 649.5 585.1 649.9 590 642.5 C594.9 635.1 594 634.8 597.5 633.8 C601 632.7 599 639.8 602.5 638.8 C606 637.7 605.8 634.9 610 630 C614.2 625.1 614 626.9 617.5 621.2 C621 615.6 620 614.9 622.5 610 C625 605.1 624.1 603.8 626.2 603.8 C628.4 603.8 627.5 604.8 630 610 C632.5 615.2 631.5 617.6 635 622.5 C638.5 627.4 637.6 626.1 642.5 627.5 C647.4 628.9 647.6 624.7 652.5 627.5 C657.4 630.3 655.1 629.1 660 637.5 C664.9 645.9 664.4 648.4 670 657.5 C675.6 666.6 675.1 664.8 680 670 C684.9 675.2 683.3 675.2 687.5 676.2 C691.7 677.3 690.1 673.4 695 673.8 C699.9 674.1 698 674 705 677.5 C712 681 713 683.1 720 686.2 C727 689.4 724.4 688.4 730 688.8 C735.6 689.1 735.1 690.3 740 687.5 C744.9 684.7 742.6 682.6 747.5 678.8 C752.4 674.9 752.6 674.1 757.5 673.8 C762.4 673.4 760.8 674.4 765 677.5 C769.2 680.6 767.6 681.5 772.5 685 C777.4 688.5 776.9 690 782.5 690 C788.1 690 786.9 685.7 792.5 685 C798.1 684.3 796.2 685.8 802.5 687.5 C808.8 689.2 808.7 690.9 815 691.2 C821.3 691.6 818.7 689.5 825 688.8 C831.3 688 831.9 691.2 837.5 688.8 C843.1 686.3 840.8 688 845 680 C849.2 672 848.3 670.5 852.5 660 C856.7 649.5 856.1 649.5 860 642.5 C863.9 635.5 862.8 633.6 866.2 635 C869.8 636.4 868.6 640.5 872.5 647.5 C876.4 654.5 875.8 653 880 660 C884.2 667 883.3 667.6 887.5 672.5 C891.7 677.4 890.5 678.2 895 677.5 C899.5 676.8 901.3 672.1 903.8 670" stroke="#ececec" stroke-width="1.05" fill="none" stroke-linejoin="round" stroke-linecap="round" />
</g>
<path d="M623 146V131.8H626.3L627.6 133.6" stroke="#e6c4c4" stroke-width="1" fill="none" filter="url(#soft2)"/>
<rect x="570.5" y="391.8" width="347" height="5.2" fill="#bdbdbd"/>
<g font-family="'Liberation Sans', sans-serif" font-size="10.6" filter="url(#soft2)">
<text x="0" y="126.3" font-family="'Liberation Sans', 'Noto Sans CJK SC', sans-serif" font-size="10.2" fill="#dcdcdc" stroke="#dcdcdc" stroke-width="0.3" textLength="68.5" lengthAdjust="spacingAndGlyphs">太原刚玉(日线)</text>
<text x="74" y="126.3" fill="#d2d2d2" stroke="#d2d2d2" stroke-width="0.3" textLength="55.5" lengthAdjust="spacingAndGlyphs">MA10:21.86</text>
<text x="135" y="126.3" fill="#cccc7c" stroke="#cccc7c" stroke-width="0.3" textLength="56" lengthAdjust="spacingAndGlyphs">MA20:21.05</text>
<text x="197" y="126.3" fill="#a030a0" stroke="#a030a0" stroke-width="0.3" textLength="53.5" lengthAdjust="spacingAndGlyphs">MA60:18.96</text>
<text x="258.7" y="126.3" fill="#30a530" stroke="#30a530" stroke-width="0.3" textLength="63.8" lengthAdjust="spacingAndGlyphs">MA250:12.10</text>
<text x="-3.5" y="571.3" fill="#d2d2d2" stroke="#d2d2d2" stroke-width="0.3" textLength="66.3" lengthAdjust="spacingAndGlyphs">AMO(6,12,24)</text>
<text x="68.7" y="571.3" fill="#d2d2d2" stroke="#d2d2d2" stroke-width="0.3"><tspan textLength="23.5" lengthAdjust="spacingAndGlyphs">AMO:</tspan><tspan x="93.7" textLength="71.3" lengthAdjust="spacingAndGlyphs">733318784.00</tspan></text>
<text x="171.2" y="571.3" fill="#d2d2d2" stroke="#d2d2d2" stroke-width="0.3"><tspan textLength="45" lengthAdjust="spacingAndGlyphs">MAAMO1:</tspan><tspan x="218.1" textLength="71.3" lengthAdjust="spacingAndGlyphs">461242368.00</tspan></text>
<text x="293.7" y="571.3" fill="#cccc7c" stroke="#cccc7c" stroke-width="0.3"><tspan textLength="45" lengthAdjust="spacingAndGlyphs">MAAMO2:</tspan><tspan x="340.59999999999997" textLength="71.3" lengthAdjust="spacingAndGlyphs">540643328.00</tspan></text>
<text x="415.7" y="571.3" fill="#a030a0" stroke="#a030a0" stroke-width="0.3"><tspan textLength="45" lengthAdjust="spacingAndGlyphs">MAAMO3:</tspan><tspan x="462.59999999999997" textLength="71.3" lengthAdjust="spacingAndGlyphs">514594816.00</tspan></text>
<text x="636" y="142.2" fill="#d0d0d0" textLength="26.5" lengthAdjust="spacingAndGlyphs">26.38</text>
<text x="573.5" y="410" fill="#d0d0d0" textLength="55.5" lengthAdjust="spacingAndGlyphs">12.95-13.18</text>
<path d="M299 544.3H289.2M292.6 541.2L289.2 544.3L292.6 547.4" stroke="#d0d0d0" stroke-width="1.1" fill="none"/>
<text x="299.6" y="548.5" fill="#d0d0d0" font-size="11.6" textLength="18.8" lengthAdjust="spacingAndGlyphs">5.51</text>
<g fill="#8f292d" text-anchor="end">
<text x="955.2" y="143.1">26.00</text>
<text x="955.2" y="182.3">24.00</text>
<text x="955.2" y="221.5">22.00</text>
<text x="955.2" y="260.7">20.00</text>
<text x="955.2" y="299.9">18.00</text>
<text x="955.2" y="339.1">16.00</text>
<text x="955.2" y="378.3">14.00</text>
<text x="955.2" y="417.5">12.00</text>
<text x="955.2" y="456.7">10.00</text>
<text x="955.2" y="495.9">8.00</text>
<text x="955.2" y="535.1">6.00</text>
<text x="955.2" y="601.4">15000</text>
<text x="955.2" y="637.5">10000</text>
<text x="955.2" y="673.4">5000</text>
</g>
<g fill="#741a1a" font-size="9.5">
<text x="1" y="717.6" textLength="22" lengthAdjust="spacingAndGlyphs">2010</text>
<text x="53" y="717.6">4</text>
<text x="132" y="717.6">5</text>
<text x="211.5" y="717.6">6</text>
<text x="285" y="717.6">7</text>
<text x="369.5" y="717.6">8</text>
<text x="458.5" y="717.6">9</text>
<text x="530.5" y="717.6">10</text>
<text x="589.5" y="717.6">11</text>
<text x="654.5" y="717.6">12</text>
<text x="745.5" y="717.6">1</text>
<text x="826" y="717.6">2</text>
<text x="886" y="717.6">3</text>
</g>
</g>
<g stroke="#501414" stroke-width="1" fill="none">
<path d="M51 707V716"/>
<path d="M129.5 707V716"/>
<path d="M209.5 707V716"/>
<path d="M283 707V716"/>
<path d="M367.5 707V716"/>
<path d="M456.5 707V716"/>
<path d="M528.5 707V716"/>
<path d="M587.5 707V716"/>
<path d="M652.5 707V716"/>
<path d="M743.5 707V716"/>
<path d="M824 707V716"/>
<path d="M884 707V716"/>
</g>
<text x="23.8" y="717.4" font-family="'Liberation Sans', 'Noto Sans CJK SC', sans-serif" font-size="9.3" fill="#741a1a">年</text>
<text x="928" y="717.9" font-family="'Liberation Sans', 'Noto Sans CJK SC', sans-serif" font-size="10" fill="#d8d8d8" filter="url(#soft2)" textLength="19.5" lengthAdjust="spacingAndGlyphs">日线</text>
<rect x="921" y="692.6" width="30.4" height="11.2" fill="none" stroke="#8e1f1f" stroke-width="1"/>
<text x="923" y="702.2" fill="#a02a2a" font-family="'Liberation Sans', sans-serif" font-size="9.5">X10</text>
<text x="940.5" y="702.2" fill="#a02a2a" font-family="'Liberation Sans', 'Noto Sans CJK SC', sans-serif" font-size="9.3">万</text>
<rect x="906.3" y="118.3" width="9.4" height="7" fill="#3a0c0c" stroke="#8a2424" stroke-width="1"/>
</g>
<g id="overlays">
<rect x="551.2" y="123.6" width="79.8" height="582.6" fill="none" stroke="#ffff2e" stroke-width="5.2"/>
<g filter="url(#soft2)"><path d="M423.4 250 L536 391.5" stroke="#ffff44" stroke-width="4.1" fill="none"/>
<path d="M543.5 401.3 L530.3 396.3 L540.3 386.2 Z" fill="#ffff44"/></g>
<rect x="42" y="169" width="8.6" height="10.4" fill="#3a3adf"/>
<g filter="url(#soft2)" font-family="'Liberation Serif', 'Noto Serif CJK SC', serif" font-size="25">
<g fill="#000" transform="translate(1.3,1.3)" opacity="0.9">
<text x="80" y="182.5" textLength="324" lengthAdjust="spacingAndGlyphs">太原刚玉从2010年10月19日</text>
<text x="80" y="213.6" textLength="327" lengthAdjust="spacingAndGlyphs">到2010年11月19日呈现堆量</text>
<text x="80" y="244.7" textLength="49" lengthAdjust="spacingAndGlyphs">上涨</text>
</g>
<g id="note-glyphs" fill="#f6cd52">
<text x="80" y="182.5" textLength="324" lengthAdjust="spacingAndGlyphs">太原刚玉从2010年10月19日</text>
<text x="80" y="213.6" textLength="327" lengthAdjust="spacingAndGlyphs">到2010年11月19日呈现堆量</text>
<text x="80" y="244.7" textLength="49" lengthAdjust="spacingAndGlyphs">上涨</text>
</g>
</g>
<g filter="url(#soft2)"><text x="763" y="157.3" font-family="'Liberation Serif', 'Noto Serif CJK SC', serif" font-size="19.7" fill="#e6b832" textLength="79" lengthAdjust="spacingAndGlyphs">太原刚玉</text></g>
</g>
</svg>
<h1 class="t">堆量</h1>
<p class="t brand">赢家江恩教研室</p>
<ul class="t"><li>太原刚玉从2010年10月19日<br>到2010年11月19日呈现堆量<br>上涨</li></ul>
<p class="t lbl">太原刚玉</p>
</body>
</html>
